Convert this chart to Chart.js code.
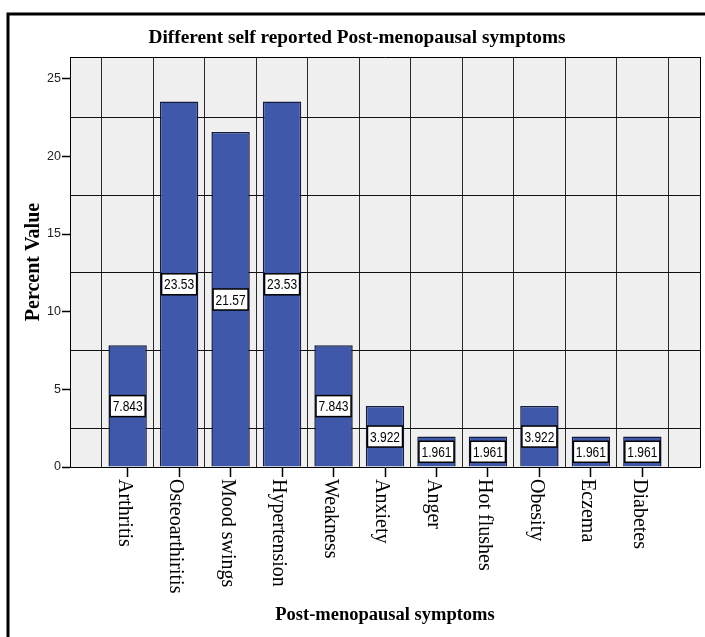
<!DOCTYPE html>
<html>
<head>
<meta charset="utf-8">
<script src="https://cdn.jsdelivr.net/npm/chart.js@4.4.1/dist/chart.umd.min.js"></script>
<style>
  body { margin: 0; background: #fff; }
  #contenedor { width: 705px; height: 637px; }
</style>
</head>
<body>
<div id="contenedor"><canvas id="sintomas_grafica"></canvas></div>
<script>
// datos
const categorias = ['Arthritis', 'Osteoarthiritis', 'Mood swings', 'Hypertension', 'Weakness', 'Anxiety', 'Anger', 'Hot flushes', 'Obesity', 'Eczema', 'Diabetes'];
const porcentajes = [7.843, 23.53, 21.57, 23.53, 7.843, 3.922, 1.961, 1.961, 3.922, 1.961, 1.961];
const etiquetas_valor = ['7.843', '23.53', '21.57', '23.53', '7.843', '3.922', '1.961', '1.961', '3.922', '1.961', '1.961'];
const ticks_y = [0, 5, 10, 15, 20, 25];
const rejilla_y = [2.5, 7.5, 12.5, 17.5, 22.5];
const titulo = 'Different self reported Post-menopausal symptoms';
const titulo_x = 'Post-menopausal symptoms';
const titulo_y = 'Percent Value';

// lineas verticales entre categorias
const rejilla_x = categorias.map((c, i) => i - 0.5).concat([categorias.length - 0.5]);

const serif = '"Liberation Serif", "Times New Roman", serif';
const sans = '"Liberation Sans", Arial, sans-serif';

const dibujo_extra = {
  id: 'dibujo_extra',
  beforeDraw(chart) {
    const { ctx, chartArea: a } = chart;
    ctx.save();
    ctx.fillStyle = '#f0f0f0';
    ctx.fillRect(a.left, a.top, a.right - a.left, a.bottom - a.top);
    ctx.restore();
  },
  afterDatasetsDraw(chart) {
    const { ctx } = chart;
    const meta = chart.getDatasetMeta(0);
    const escala_y = chart.scales.y;
    ctx.save();
    ctx.font = '15px ' + sans;
    meta.data.forEach((barra, i) => {
      const texto = etiquetas_valor[i];
      const ancho = ctx.measureText(texto).width * 0.8;
      const cx = barra.x;
      const cy = escala_y.getPixelForValue(porcentajes[i] / 2);
      const w = ancho + 5, h = 21;
      ctx.fillStyle = '#fff';
      ctx.fillRect(cx - w / 2, cy - h / 2, w, h);
      ctx.lineWidth = 1.5;
      ctx.strokeStyle = '#000';
      ctx.strokeRect(cx - w / 2, cy - h / 2, w, h);
      ctx.save();
      ctx.translate(cx, cy + 1);
      ctx.scale(0.8, 1);
      ctx.fillStyle = '#000';
      ctx.textAlign = 'center';
      ctx.textBaseline = 'middle';
      ctx.fillText(texto, 0, 0);
      ctx.restore();
    });
    ctx.restore();
  },
  afterDraw(chart) {
    const { ctx, chartArea: a } = chart;
    const escala_x = chart.scales.x;
    ctx.save();
    // marco exterior
    ctx.strokeStyle = '#000';
    ctx.lineWidth = 3;
    ctx.beginPath();
    ctx.moveTo(8, 640);
    ctx.lineTo(8, 14);
    ctx.lineTo(710, 14);
    ctx.stroke();

    ctx.fillStyle = '#000';
    // titulo
    ctx.font = 'bold 19.3px ' + serif;
    ctx.textAlign = 'center';
    ctx.textBaseline = 'alphabetic';
    ctx.fillText(titulo, 357, 43);

    // titulo eje x
    ctx.font = 'bold 18.5px ' + serif;
    ctx.fillText(titulo_x, (a.left + a.right) / 2, 620);

    // titulo eje y
    ctx.save();
    ctx.font = 'bold 20px ' + serif;
    ctx.translate(38.5, (a.top + a.bottom) / 2);
    ctx.rotate(-Math.PI / 2);
    ctx.fillText(titulo_y, 0, 0);
    ctx.restore();

    // etiquetas de categorias, giradas
    ctx.font = '20px ' + serif;
    ctx.textAlign = 'left';
    categorias.forEach((c, i) => {
      const x = escala_x.getPixelForValue(i);
      ctx.save();
      ctx.translate(x - 8.7, a.bottom + 12);
      ctx.rotate(Math.PI / 2);
      ctx.fillText(c, 0, 0);
      ctx.restore();
    });
    ctx.restore();
  }
};

const ctx1 = document.getElementById('sintomas_grafica').getContext('2d');

const grafica_sintomas = new Chart(ctx1, {
  type: 'bar',
  data: {
    datasets: [{
      data: porcentajes.map((v, i) => ({ x: i, y: v })),
      backgroundColor: '#3f58a9',
      borderColor: '#161c3c',
      borderWidth: 1.5,
      categoryPercentage: 1,
      barPercentage: 0.746,
    }]
  },
  options: {
    responsive: true,
    maintainAspectRatio: false,
    animation: false,
    layout: { padding: { top: 57, right: 5, left: 0, bottom: 0 } },
    plugins: {
      legend: { display: false },
      tooltip: { enabled: false },
      title: { display: false },
    },
    scales: {
      x: {
        type: 'linear',
        position: 'bottom',
        min: -1.12,
        max: 11.12,
        bounds: 'data',
        offset: false,
        afterBuildTicks: (escala) => { escala.ticks = categorias.map((c, i) => ({ value: i })); },
        afterFit: (escala) => { escala.height = 170; },
        ticks: { display: false },
        grid: { offset: false, drawOnChartArea: false, drawTicks: true, tickLength: 10, color: '#000', tickColor: '#000', tickWidth: 1.5 },
        border: { display: true, color: '#000', width: 1 },
      },
      x_rejilla: {
        type: 'linear',
        position: 'top',
        min: -1.12,
        max: 11.12,
        bounds: 'data',
        offset: false,
        afterBuildTicks: (escala) => { escala.ticks = rejilla_x.map(v => ({ value: v })); },
        afterFit: (escala) => { escala.height = 0; },
        ticks: { display: false },
        grid: { offset: false, drawTicks: false, color: '#2a2a2a', lineWidth: 1 },
        border: { display: true, color: '#000', width: 1 },
      },
      y: {
        position: 'left',
        min: 0,
        max: 26.4,
        afterBuildTicks: (escala) => { escala.ticks = ticks_y.map(v => ({ value: v })); },
        afterFit: (escala) => { escala.width = 70; },
        ticks: { color: '#222', padding: 1, font: { family: 'Liberation Sans', size: 12.5 } },
        grid: { drawOnChartArea: false, drawTicks: true, tickLength: 8, color: '#000', tickColor: '#000', tickWidth: 1.5 },
        border: { display: true, color: '#000', width: 1 },
      },
      y_rejilla: {
        position: 'right',
        min: 0,
        max: 26.4,
        afterBuildTicks: (escala) => { escala.ticks = rejilla_y.map(v => ({ value: v })); },
        afterFit: (escala) => { escala.width = 0; },
        ticks: { display: false },
        grid: { drawTicks: false, color: '#111', lineWidth: 1 },
        border: { display: true, color: '#000', width: 1 },
      },
    }
  },
  plugins: [dibujo_extra]
});
</script>
</body>
</html>
